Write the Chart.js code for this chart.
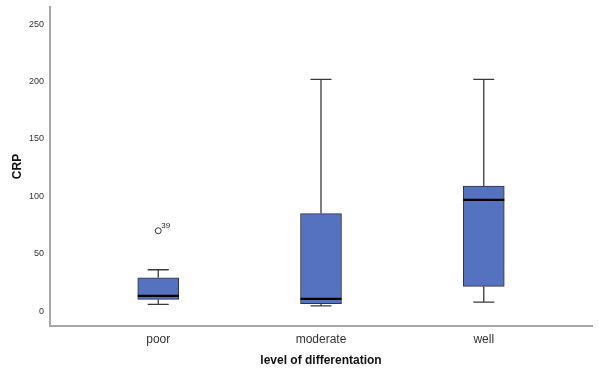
<!DOCTYPE html>
<html>
<head>
<meta charset="utf-8">
<script src="https://cdn.jsdelivr.net/npm/chart.js@4"></script>
<style>
  html, body { margin: 0; background: #fff; }
  #wrap { width: 599px; height: 374px; }
</style>
</head>
<body>
<div id="wrap"><canvas id="boxChart"></canvas></div>
<script>
// Boxplot - CRP por nível de diferenciação
const categories = ['poor', 'moderate', 'well'];
const whiskerLow = [5.8, 4.6, 7.8];
const q1 = [10.2, 6.4, 21.5];
const median = [13.3, 10.7, 97];
const q3 = [29, 85, 109];
const whiskerHigh = [36, 202, 202];
const outlierCat = [0];      // índice da categoria
const outlierValue = [70];
const outlierLabel = ['39'];
const yTicks = [0, 50, 100, 150, 200, 250];

const boxParts = {
    id: 'boxParts',
    beforeDatasetsDraw(chart) {
        const ctx = chart.ctx;
        const x = chart.scales.x, y = chart.scales.y;
        ctx.save();
        ctx.strokeStyle = '#3a3a3a';
        ctx.lineWidth = 1.3;
        categories.forEach((c, i) => {
            const px = x.getPixelForValue(i + 1);
            const segs = [[q3[i], whiskerHigh[i]], [q1[i], whiskerLow[i]]];
            segs.forEach(([from, to]) => {
                const y0 = y.getPixelForValue(from), y1 = y.getPixelForValue(to);
                ctx.beginPath();
                ctx.moveTo(px, y0);
                ctx.lineTo(px, y1);
                ctx.moveTo(px - 10.5, y1);
                ctx.lineTo(px + 10.5, y1);
                ctx.stroke();
            });
        });
        ctx.restore();
    },
    afterDatasetsDraw(chart) {
        const ctx = chart.ctx;
        const x = chart.scales.x, y = chart.scales.y;
        const bars = chart.getDatasetMeta(0).data;
        ctx.save();
        ctx.strokeStyle = '#000';
        ctx.lineWidth = 2.2;
        categories.forEach((c, i) => {
            const px = x.getPixelForValue(i + 1);
            const w = bars[i].width;
            const py = y.getPixelForValue(median[i]);
            ctx.beginPath();
            ctx.moveTo(px - w / 2, py);
            ctx.lineTo(px + w / 2, py);
            ctx.stroke();
        });
        // rótulos dos outliers
        ctx.fillStyle = '#222';
        ctx.font = '8px "Liberation Sans", Arial, sans-serif';
        ctx.textAlign = 'left';
        ctx.textBaseline = 'bottom';
        outlierValue.forEach((v, k) => {
            const px = x.getPixelForValue(outlierCat[k] + 1);
            const py = y.getPixelForValue(v);
            ctx.fillText(outlierLabel[k], px + 3, py - 1);
        });
        ctx.restore();
    }
};

const ctxBox = document.getElementById('boxChart').getContext('2d');
const boxChart = new Chart(ctxBox, {
    data: {
        datasets: [{
            type: 'bar',
            data: categories.map((c, i) => ({ x: i + 1, y: [q1[i], q3[i]] })),
            backgroundColor: '#5572c1',
            borderColor: '#333',
            borderWidth: 1,
            borderSkipped: false,
            barThickness: 41
        }, {
            type: 'scatter',
            data: outlierValue.map((v, k) => ({ x: outlierCat[k] + 1, y: v })),
            pointRadius: 3,
            pointBackgroundColor: '#fff',
            pointBorderColor: '#333',
            pointBorderWidth: 1
        }]
    },
    options: {
        responsive: true,
        maintainAspectRatio: false,
        animation: false,
        layout: { padding: { top: 7, right: 7, left: 0, bottom: 0 } },
        plugins: { legend: { display: false }, tooltip: { enabled: false } },
        scales: {
            x: {
                type: 'linear',
                offset: false,
                min: 0.335,
                max: 3.665,
                grid: { display: false, drawTicks: false, offset: false },
                border: { display: true, color: '#a8a8a8', width: 2 },
                afterBuildTicks: s => { s.ticks = categories.map((c, i) => ({ value: i + 1 })); },
                afterFit: s => { s.height = 48; s.paddingLeft = 0; s.paddingRight = 0; },
                ticks: {
                    autoSkip: false,
                    maxRotation: 0,
                    padding: 6,
                    color: '#333',
                    font: { family: '"Liberation Sans", Arial, sans-serif', size: 12 },
                    callback: v => categories[v - 1]
                },
                title: {
                    display: true,
                    text: 'level of differentation',
                    color: '#111',
                    padding: { top: 4, bottom: 6 },
                    font: { family: '"Liberation Sans", Arial, sans-serif', size: 12, weight: 'bold' }
                }
            },
            y: {
                min: -13,
                max: 265,
                grid: { display: false, drawTicks: false },
                border: { display: true, color: '#a8a8a8', width: 2 },
                afterBuildTicks: s => { s.ticks = yTicks.map(v => ({ value: v })); },
                afterFit: s => { s.width = 50; s.paddingTop = 0; s.paddingBottom = 0; },
                ticks: {
                    padding: 6,
                    color: '#333',
                    font: { family: '"Liberation Sans", Arial, sans-serif', size: 9 }
                },
                title: {
                    display: true,
                    text: 'CRP',
                    color: '#111',
                    padding: { top: 10, bottom: 0 },
                    font: { family: '"Liberation Sans", Arial, sans-serif', size: 12, weight: 'bold' }
                }
            }
        }
    },
    plugins: [boxParts]
});
</script>
</body>
</html>
